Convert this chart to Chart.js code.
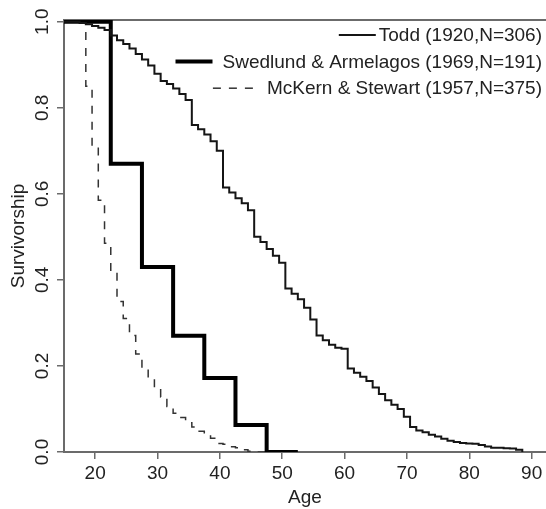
<!DOCTYPE html>
<html>
<head>
<meta charset="utf-8">
<script src="https://cdn.jsdelivr.net/npm/chart.js@4.4.1/dist/chart.umd.min.js"></script>
<style>
  html, body { margin: 0; padding: 0; background: #fff; }
  #wrap { width: 546px; height: 509px; }
</style>
</head>
<body>
<div id="wrap"><canvas id="survivalChart" width="546" height="509"></canvas></div>
<script>
// Survivorship curves (step functions)

// Todd (1920, N=306) - drops at each half year
const toddAge = [15, 17.5, 18.5, 19.5, 20.5, 21.5, 22.5, 23.5, 24.5, 25.5, 26.5, 27.5, 28.5, 29.5,
  30.5, 31.5, 32.5, 33.5, 34.5, 35.5, 36.5, 37.5, 38.5, 39.5, 40.5, 41.5, 42.5, 43.5, 44.5,
  45.5, 46.5, 47.5, 48.5, 49.5, 50.5, 51.5, 52.5, 53.5, 54.5, 55.5, 56.5, 57.5, 58.5, 59.5,
  60.5, 61.5, 62.5, 63.5, 64.5, 65.5, 66.5, 67.5, 68.5, 69.5, 70.5, 71.5, 72.5, 73.5, 74.5,
  75.5, 76.5, 77.5, 78.5, 79.5, 80.5, 81.5, 82.5, 83.5, 84.5, 85.5, 86.5, 87.5, 88.5];
const toddSurv = [1.0, 0.997, 0.994, 0.990, 0.986, 0.981, 0.968, 0.957, 0.948, 0.938, 0.925, 0.912, 0.898, 0.879,
  0.862, 0.855, 0.845, 0.832, 0.818, 0.760, 0.750, 0.738, 0.722, 0.700, 0.615, 0.603, 0.590, 0.578, 0.562,
  0.500, 0.488, 0.472, 0.456, 0.440, 0.380, 0.368, 0.355, 0.335, 0.308, 0.271, 0.260, 0.249, 0.242, 0.240,
  0.194, 0.184, 0.175, 0.165, 0.150, 0.135, 0.120, 0.110, 0.100, 0.082, 0.058, 0.050, 0.046, 0.040, 0.036,
  0.031, 0.026, 0.023, 0.021, 0.020, 0.019, 0.016, 0.013, 0.010, 0.010, 0.009, 0.008, 0.005, 0.0];

// Swedlund & Armelagos (1969, N=191) - 5 year intervals
const swedAge = [15, 22.5, 27.5, 32.5, 37.5, 42.5, 47.5, 52.5];
const swedSurv = [1.0, 0.670, 0.430, 0.270, 0.172, 0.063, 0.0, 0.0];

// McKern & Stewart (1957, N=375)
const mckAge = [15, 18.5, 19.5, 20.5, 21.5, 22.5, 23.5, 24.5, 25.5, 26.5, 27.5, 28.5, 29.5, 30.5,
  31.5, 32.5, 33.5, 34.5, 35.5, 36.5, 37.5, 38.5, 39.5, 40.5, 41.5, 42.5, 43.5, 44.5, 45.5, 47.5];
const mckSurv = [1.0, 0.850, 0.710, 0.585, 0.485, 0.420, 0.350, 0.310, 0.271, 0.228, 0.195, 0.170, 0.150, 0.128,
  0.106, 0.090, 0.080, 0.068, 0.058, 0.048, 0.040, 0.032, 0.020, 0.018, 0.012, 0.010, 0.005, 0.002, 0.0, 0.0];

const seriesLabels = ['Todd (1920,N=306)', 'Swedlund & Armelagos (1969,N=191)', 'McKern & Stewart (1957,N=375)'];
const xTicks = [20, 30, 40, 50, 60, 70, 80, 90];
const yTicks = [0, 0.2, 0.4, 0.6, 0.8, 1.0];

const toPoints = (xs, ys) => xs.map((x, i) => ({ x: x, y: ys[i] }));

const axisColor = '#6b6b6b';
const textColor = '#222';
const fontStack = "'Liberation Sans', Arial, sans-serif";

Chart.defaults.font.family = fontStack;
Chart.defaults.font.size = 19;
Chart.defaults.color = textColor;

// legend drawn inside the plot, text right aligned with the line sample before it
const cornerLegend = {
  id: 'cornerLegend',
  afterDraw(chart, args, opts) {
    const ctx = chart.ctx;
    ctx.save();
    ctx.font = '19px ' + fontStack;
    ctx.textAlign = 'right';
    ctx.textBaseline = 'middle';
    ctx.fillStyle = textColor;
    chart.data.datasets.forEach((ds, i) => {
      const y = opts.top + i * opts.rowHeight;
      const w = ctx.measureText(ds.label).width;
      ctx.fillText(ds.label, opts.right, y + 1);
      const end = opts.right - w - opts.gap[i];
      ctx.beginPath();
      ctx.setLineDash(ds.borderDash || []);
      ctx.lineWidth = ds.borderWidth;
      ctx.strokeStyle = ds.borderColor;
      ctx.moveTo(end - opts.sampleLength[i], y);
      ctx.lineTo(end, y);
      ctx.stroke();
    });
    ctx.restore();
  }
};

new Chart(document.getElementById('survivalChart'), {
  type: 'line',
  data: {
    datasets: [{
      label: seriesLabels[0],
      data: toPoints(toddAge, toddSurv),
      borderColor: '#151515',
      borderWidth: 2,
      stepped: true,
      pointRadius: 0
    }, {
      label: seriesLabels[1],
      data: toPoints(swedAge, swedSurv),
      borderColor: '#000',
      borderWidth: 4,
      stepped: true,
      pointRadius: 0
    }, {
      label: seriesLabels[2],
      data: toPoints(mckAge, mckSurv),
      borderColor: '#333',
      borderWidth: 1.5,
      borderDash: [8, 8],
      stepped: true,
      pointRadius: 0
    }]
  },
  options: {
    responsive: false,
    animation: false,
    layout: { padding: { top: 20, left: 0, right: 0, bottom: 0 } },
    plugins: {
      legend: { display: false },
      tooltip: { enabled: false },
      cornerLegend: {
        right: 542,
        top: 35,
        rowHeight: 26.6,
        gap: [3, 10, 10],
        sampleLength: [37, 37, 44]
      }
    },
    scales: {
      x: {
        type: 'linear',
        min: 15,
        max: 92.3,
        afterBuildTicks: s => { s.ticks = xTicks.map(v => ({ value: v })); },
        afterFit: s => { s.height = 57; },
        border: { color: axisColor, width: 2 },
        grid: { display: true, drawOnChartArea: false, tickLength: 7, color: axisColor, lineWidth: 1.5 },
        ticks: { padding: 3, maxRotation: 0, callback: v => String(v) },
        title: { display: true, text: 'Age', padding: { top: 0, bottom: 0 } }
      },
      x2: {
        type: 'linear',
        position: 'top',
        min: 15,
        max: 92.3,
        afterFit: s => { s.height = 0; },
        border: { color: axisColor, width: 2 },
        grid: { display: false },
        ticks: { display: false }
      },
      y: {
        min: 0,
        max: 1.004,
        afterBuildTicks: s => { s.ticks = yTicks.map(v => ({ value: v })); },
        afterFit: s => { s.width = 64; },
        border: { color: axisColor, width: 2 },
        grid: { display: true, drawOnChartArea: false, tickLength: 7, color: axisColor, lineWidth: 1.5 },
        ticks: { minRotation: 90, maxRotation: 90, padding: 1, crossAlign: 'center', callback: v => v.toFixed(1) },
        title: { display: true, text: 'Survivorship', padding: { top: 7, bottom: 0 } }
      }
    }
  },
  plugins: [cornerLegend]
});
</script>
</body>
</html>
